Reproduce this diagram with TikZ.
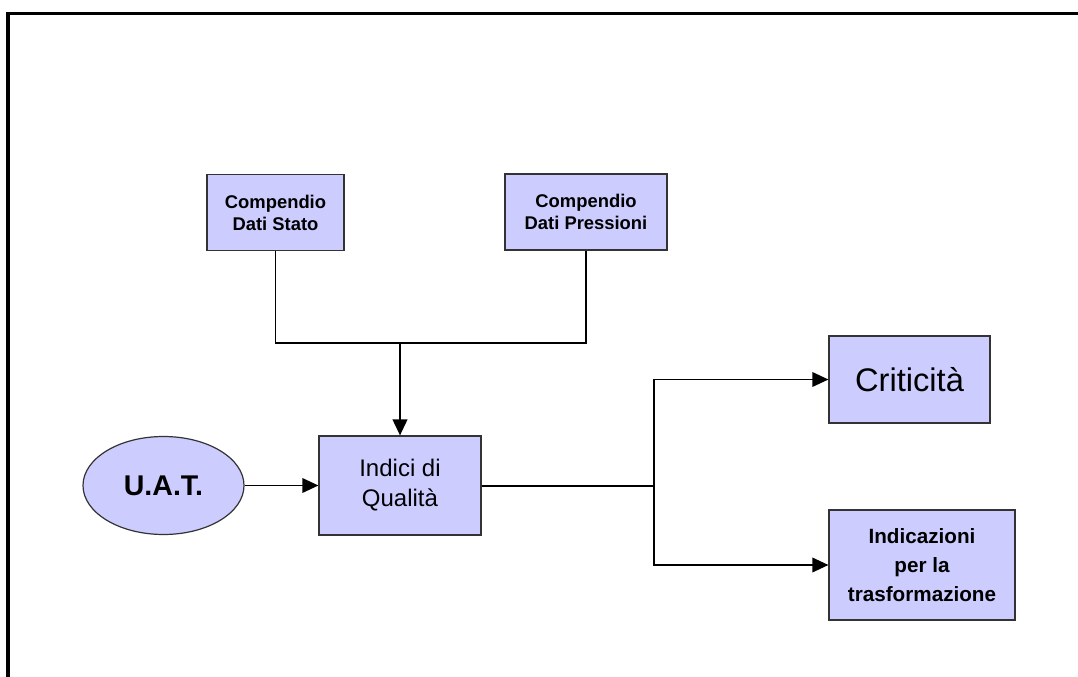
\documentclass[tikz,border=0pt]{standalone}
\usepackage{fontspec}
\setmainfont{Liberation Sans}
\usetikzlibrary{positioning,arrows.meta,shapes.geometric}
\definecolor{uatlilac}{RGB}{204,204,255}
\definecolor{uatedge}{RGB}{51,51,51}
\tikzset{
  boxstyle/.style={rectangle, draw=uatedge, line width=0.9pt,
    fill=uatlilac, inner sep=0pt, align=center},
  ovalstyle/.style={ellipse, draw=uatedge, line width=0.9pt,
    fill=uatlilac, inner sep=0pt, align=center},
  linestyle/.style={black, line width=1pt},
  arrowstyle/.style={-{Triangle[length=12pt,width=11pt]}, black, line width=1pt}
}

\begin{document}
\begin{tikzpicture}[x=0.75pt, y=-0.75pt]
  \tikzset{small/.style={boxstyle, minimum height=57pt,
    font=\fontsize{13.8}{16.5}\selectfont\bfseries}}
  \useasboundingbox (0,0) rectangle (1078,677);
  % frame
  \draw[line width=2.3pt] (8,677) -- (8,13.5) -- (1078,13.5);
  \node[small, minimum width=102.75pt] (stato) at (275.5,212.5) {Compendio\\Dati Stato};
  \node[small, minimum width=121.5pt] (press) at (586,212) {Compendio\\Dati Pressioni};
  \node[boxstyle, minimum width=121.5pt, minimum height=74.25pt,
    font=\fontsize{18}{22.5}\selectfont] (indici) at (400,485.5) {Indici di\\Qualità};
  \node[ovalstyle, minimum width=120.75pt, minimum height=73.5pt,
    font=\fontsize{21.4}{25}\selectfont\bfseries] (uat) at (163.5,485.5) {U.A.T.};
  \node[boxstyle, minimum width=120.75pt, minimum height=65.25pt,
    font=\fontsize{24.5}{28}\selectfont] (crit) at (909.5,379.5) {Criticità};
  \node[boxstyle, minimum width=139.5pt, minimum height=82.5pt,
    font=\fontsize{15.5}{21.5}\selectfont\bfseries] (indic) at (922,565) {Indicazioni\\per la\\trasformazione};
  \coordinate (join) at (400,343);
  \coordinate (fork) at (654,486);
  \draw[linestyle] (stato.south) |- (join) -| (press.south);
  \draw[arrowstyle, line width=1.5pt] (join) -- (indici.north);
  \draw[arrowstyle] (uat) -- (indici);
  \draw[linestyle] (indici.east |- fork) -- (fork);
  \draw[arrowstyle] (fork) |- (crit.west);
  \draw[arrowstyle] (fork) |- (indic.west);
\end{tikzpicture}
\end{document}
